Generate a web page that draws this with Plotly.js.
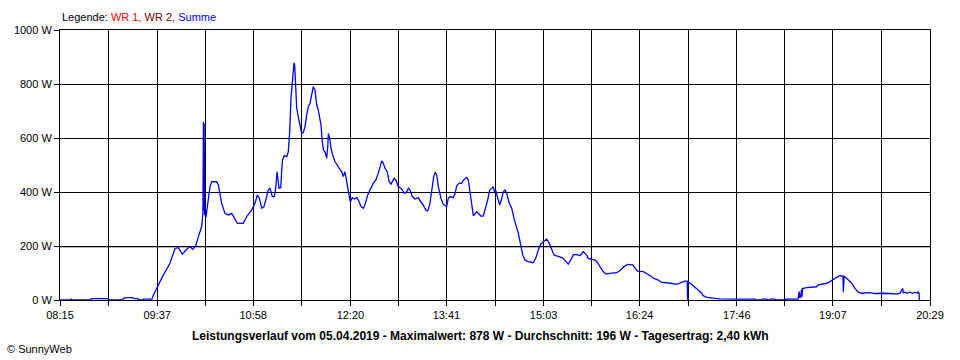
<!DOCTYPE html>
<html>
<head>
<meta charset="utf-8">
<script src="https://cdn.plot.ly/plotly-3.0.1.min.js"></script>
<style>
html,body{margin:0;padding:0;background:#fff;}
#chart{width:960px;height:360px;}
</style>
</head>
<body>
<div id="chart"></div>
<script>
// time of day in minutes since midnight
const timeMin = [
495,504,504.5,505,521,521.5,535.5,536,548,548.5,551.5,555.7,558.3,560.8,561.3,565,565.5,572.6,
573.7,577.1,582.2,587.8,592,594.8,598.2,601.9,604.7,607,609.5,611.7,614.5,615.6,616,616.3,616.6,617,
618.2,619.3,621.6,623,627.2,628.6,631.4,634.2,637,639.9,644.6,649.6,652.5,656.7,659.5,661.5,663.2,665.2,
667.1,669.4,670.7,672.2,674.1,675.8,677,678.1,679.2,679.8,681.2,682.5,684,686.3,687.6,688.8,689.9,691,
691.8,692.4,693,693.9,694.7,696,697.5,698.9,700.3,701.7,703.1,704.5,705.9,707.4,708.7,710.1,711.6,712.9,
713.8,715.2,716.3,717.2,718.6,720,720.9,721.4,722.5,723.6,725.1,727,729,730.4,732.7,734,735.4,736.9,
738.2,739.9,741.6,743.3,745.3,746.7,749,750.9,752.3,754.6,756.5,759.3,761.4,763.5,766.4,767.8,769.2,771.1,
772.6,774.3,775.7,777,778.7,780.4,783.3,785.5,787.5,788.9,790.3,792.2,794.5,797.3,799.6,801.5,803.5,805.2,
806.9,808.6,810.3,811.6,812.8,814.2,816.4,818.4,821.2,822.6,824,826.8,828.3,829.7,831.6,833.9,835.3,838.1,
839.5,840.9,842.3,843.7,846.6,847.9,850.2,852.1,853.6,855.8,857.5,859.2,860.6,861.4,862.6,864.3,866,867.7,
869,870.4,871.9,874.1,876.1,878,880.3,881.7,883.7,885.4,887.3,890.1,894.3,896.6,898.5,900.6,902.8,905.6,
907.8,909.8,911.8,914,916.8,919.6,921.9,923.8,925.9,928.1,930.3,933.7,936.5,938.8,940.7,943.6,946.4,948.3,
950.6,952.9,955.7,959,964.7,968,970.8,973.6,978.2,980.1,982.1,987.1,990,993.4,996.1,999.8,1002.6,1006.9,
1010.2,1015.3,1019.5,1022.3,1024.2,1024.5,1024.8,1025.9,1027.9,1030.7,1034.4,1036.4,1037.7,1040.6,1043.4,1046.2,1051.8,1068.7,
1081.4,1081.8,1087.3,1087.5,1091.5,1091.8,1094,1094.3,1098.3,1098.6,1102.3,1102.5,1102.8,1106.7,1107,1117.7,1117.9,1118.7,
1119.1,1119.9,1120.6,1121,1121.5,1122.1,1125,1130.6,1133.4,1134.8,1139,1141.9,1144.6,1147.4,1150.3,1153.1,1154.5,1155.6,
1155.9,1156.5,1157.3,1160.1,1163,1165.7,1168.5,1171.4,1175.6,1178.4,1182.6,1186.8,1189.6,1195.3,1200.9,1203.7,1206,1206.4,
1207.9,1209.6,1212.1,1214.7,1216.3,1218.3,1218.9,1219.8,1220
];
// Summe in W
const summeW = [
0,0,4,0,0,5,5,0,0,6,9,9,5,5,0,0,3,3,
18,49,93,136,191,194,170,188,198,188,200,234,272,321,660,330,655,320,
306,346,420,438,438,426,358,321,315,321,284,284,309,333,358,389,377,340,
346,383,407,414,383,383,414,475,444,414,416,512,535,531,549,623,747,821,
873,878,870,808,710,679,648,617,621,642,685,716,728,759,790,778,722,704,
685,648,586,556,549,525,568,617,599,562,537,512,500,488,475,457,475,438,
401,364,379,374,379,370,346,340,354,389,407,432,444,469,515,506,488,475,
438,429,441,451,441,420,411,395,401,414,407,383,374,379,362,352,333,330,
352,414,457,473,463,420,377,354,346,377,383,379,395,423,432,432,444,454,
444,401,358,312,327,321,311,311,333,370,407,414,420,401,407,377,352,377,
401,407,395,358,340,302,272,247,204,167,148,142,138,157,185,207,216,225,
210,185,167,163,160,154,142,133,148,167,169,164,179,169,154,152,148,140,
123,107,96,99,101,111,123,132,130,117,107,105,99,89,80,74,65,64,
62,58,65,70,70,0,68,65,58,49,33,25,16,10,9,6,4,3,
3,0,0,3,3,0,0,3,3,0,0,3,0,0,3,3,10,31,
10,10,40,12,43,43,46,47,49,56,59,62,68,77,84,90,90,88,
29,88,86,74,62,43,29,25,25,27,24,25,25,24,22,25,43,27,
29,25,29,25,29,25,30,25,0
];
const xTickLabels = ['08:15','09:37','10:58','12:20','13:41','15:03','16:24','17:46','19:07','20:29'];
const yTickValues = [0,200,400,600,800,1000];
const averageW = 196;
const legendText = ['Legende: ', 'WR 1, ', 'WR 2, ', 'Summe'];
const titleText = 'Leistungsverlauf vom 05.04.2019 - Maximalwert: 878 W - Durchschnitt: 196 W - Tagesertrag: 2,40 kWh';
const creditText = '© SunnyWeb';

function toMin(s){const p=s.split(':');return +p[0]*60 + +p[1];}
const majors = xTickLabels.map(toMin);
const tickvals = [], ticktext = [];
for (let i=0;i<majors.length;i++){
  tickvals.push(majors[i]); ticktext.push(xTickLabels[i]);
  if (i<majors.length-1){ tickvals.push((majors[i]+majors[i+1])/2); ticktext.push(''); }
}

const font = {family:'"Liberation Sans", Arial, sans-serif', size:11, color:'#000'};

const trace = {
  x: timeMin, y: summeW, type:'scatter', mode:'lines', name:'Summe',
  line:{color:'#0000ff', width:1.3}, hoverinfo:'skip'
};

const layout = {
  width:960, height:360,
  margin:{l:60, r:30, t:30, b:60, pad:0},
  paper_bgcolor:'#fff', plot_bgcolor:'#fff',
  showlegend:false,
  font: font,
  xaxis:{
    range:[majors[0], majors[majors.length-1]],
    tickmode:'array', tickvals:tickvals, ticktext:ticktext,
    showgrid:true, gridcolor:'#000', gridwidth:1,
    showline:true, linecolor:'#000', linewidth:1, mirror:true,
    ticks:'outside', ticklen:5, tickcolor:'#000', tickwidth:1,
    zeroline:false, fixedrange:true, tickfont:font
  },
  yaxis:{
    range:[0,1000],
    tickmode:'array', tickvals:yTickValues, ticktext:yTickValues.map(v=>v+' W'),
    showgrid:true, gridcolor:'#000', gridwidth:1,
    showline:true, linecolor:'#000', linewidth:1, mirror:true,
    ticks:'outside', ticklen:5, tickcolor:'#000', tickwidth:1,
    zeroline:false, fixedrange:true, tickfont:font
  },
  shapes:[{
    type:'line', xref:'paper', x0:0, x1:1, yref:'y', y0:averageW, y1:averageW,
    line:{color:'#808080', width:1}, layer:'below'
  }],
  annotations:[
    {xref:'paper', yref:'paper', x:0, y:(300-17)/270, xanchor:'left', yanchor:'middle', showarrow:false,
     text: legendText[0] + '<span style="color:#ff0000">'+legendText[1]+'</span>' +
           '<span style="color:#800000">'+legendText[2]+'</span>' +
           '<span style="color:#0000ff">'+legendText[3]+'</span>', font:font},
    {xref:'paper', yref:'paper', x:(480-60)/870, y:(300-336)/270, xanchor:'center', yanchor:'middle', showarrow:false,
     text:'<b>'+titleText+'</b>', font:{family:font.family, size:12, color:'#000'}},
    {xref:'paper', yref:'paper', x:(5-60)/870, y:(300-349)/270, xanchor:'left', yanchor:'middle', showarrow:false,
     text:creditText, font:font}
  ]
};

Plotly.newPlot('chart', [trace], layout, {staticPlot:true, displayModeBar:false});
</script>
</body>
</html>
